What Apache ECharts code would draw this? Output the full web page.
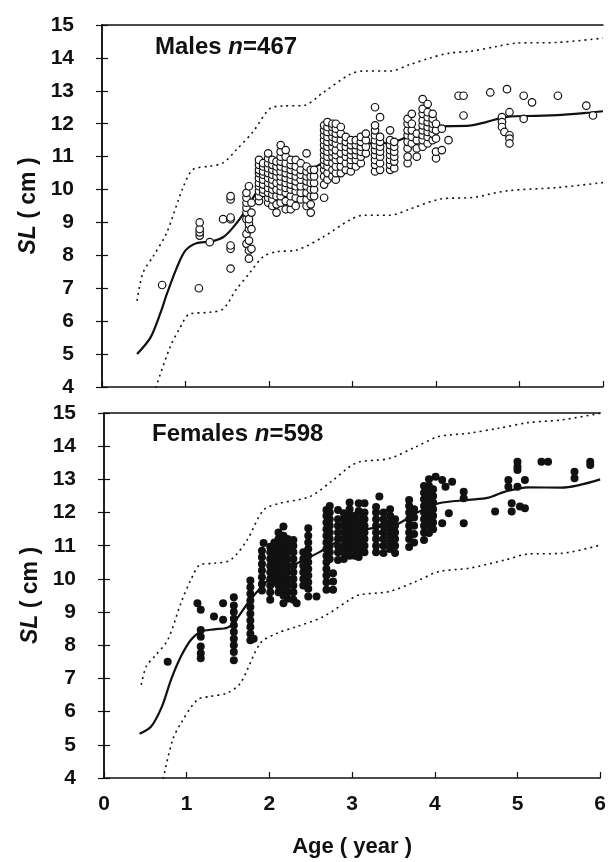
<!DOCTYPE html>
<html>
<head>
<meta charset="utf-8">
<script src="https://cdn.jsdelivr.net/npm/echarts@6/dist/echarts.min.js"></script>
<style>
  html, body { margin: 0; padding: 0; background: #fff; }
  #chart { width: 609px; height: 862px; }
</style>
</head>
<body>
<div id="chart"></div>
<script>
// axis ticks
const ageTicks = [0, 1, 2, 3, 4, 5, 6]
const slTicks = [4, 5, 6, 7, 8, 9, 10, 11, 12, 13, 14, 15]

// males: observed columns [age, [SL ...]]
const maleCols = [
  [0.72, [7.1]],
  [1.16, [7.0]],
  [1.17, [8.6, 8.7, 8.8, 9.0]],
  [1.29, [8.4]],
  [1.45, [9.1]],
  [1.54, [7.6, 8.2, 8.3, 9.1, 9.15, 9.7, 9.8]],
  [1.73, [8.35, 8.65, 9.1, 9.3, 9.45, 9.6, 9.75, 9.9]],
  [1.76, [7.9, 8.15, 8.45, 8.8, 8.95, 9.1, 10.1]],
  [1.79, [8.2, 8.8, 9.3, 9.6]],
  [1.88, [9.65, 9.8, 9.95, 10.1, 10.2, 10.35, 10.5, 10.6, 10.75, 10.9]],
  [1.93, [9.9, 10.0, 10.15, 10.3, 10.45, 10.55, 10.7, 10.8]],
  [1.99, [9.6, 9.75, 9.9, 10.05, 10.2, 10.35, 10.5, 10.65, 10.8, 10.95, 11.1]],
  [2.04, [9.5, 9.7, 9.85, 10.0, 10.15, 10.3, 10.45, 10.6, 10.75, 10.9]],
  [2.09, [9.3, 9.55, 9.8, 10.0, 10.2, 10.4, 10.55, 10.7, 10.85]],
  [2.14, [9.6, 9.8, 9.95, 10.1, 10.25, 10.4, 10.55, 10.7, 10.85, 11.0, 11.15, 11.35]],
  [2.2, [9.4, 9.65, 9.9, 10.05, 10.2, 10.35, 10.5, 10.65, 10.8, 11.0, 11.2]],
  [2.26, [9.4, 9.6, 9.8, 10.0, 10.15, 10.3, 10.45, 10.6, 10.75, 10.9]],
  [2.32, [9.5, 9.75, 9.95, 10.1, 10.25, 10.4, 10.55, 10.7, 10.9]],
  [2.38, [9.7, 9.9, 10.1, 10.3, 10.45, 10.6, 10.8]],
  [2.45, [9.5, 9.7, 9.9, 10.1, 10.25, 10.4, 10.55, 10.7, 11.1]],
  [2.5, [9.3, 9.55, 9.8, 10.0, 10.2, 10.4, 10.6]],
  [2.54, [9.8, 10.0, 10.2, 10.4, 10.6]],
  [2.66, [9.75, 10.15, 10.4, 10.6, 10.75, 10.9, 11.05, 11.2, 11.35, 11.5, 11.65, 11.8, 11.95]],
  [2.7, [10.3, 10.5, 10.7, 10.85, 11.0, 11.15, 11.3, 11.45, 11.6, 11.75, 11.9, 12.05]],
  [2.76, [10.4, 10.6, 10.8, 11.0, 11.15, 11.3, 11.45, 11.6, 11.75, 11.9, 12.0]],
  [2.8, [10.3, 10.5, 10.7, 10.9, 11.05, 11.2, 11.4, 11.55, 11.7, 11.85, 12.0]],
  [2.86, [10.5, 10.7, 10.9, 11.1, 11.3, 11.5, 11.7, 11.9]],
  [2.92, [10.6, 10.8, 11.0, 11.15, 11.3, 11.45, 11.6]],
  [2.98, [10.55, 10.75, 10.9, 11.05, 11.2, 11.35, 11.5]],
  [3.04, [10.7, 10.9, 11.05, 11.2, 11.35, 11.5]],
  [3.1, [10.8, 11.0, 11.15, 11.3, 11.45, 11.6]],
  [3.16, [11.1, 11.3, 11.5, 11.7]],
  [3.27, [10.55, 10.75, 10.9, 11.05, 11.2, 11.35, 11.5, 11.65, 11.8, 11.95, 12.5]],
  [3.33, [10.6, 10.8, 11.0, 11.15, 11.3, 11.45, 11.6, 12.2]],
  [3.45, [10.6, 10.75, 10.9, 11.05, 11.2, 11.35, 11.5, 11.8]],
  [3.5, [10.65, 10.85, 11.0, 11.15, 11.3, 11.45]],
  [3.66, [10.8, 11.0, 11.25, 11.45, 11.65, 11.8, 12.0, 12.15]],
  [3.71, [11.4, 11.6, 11.8, 12.0, 12.3]],
  [3.77, [11.0, 11.25, 11.5, 11.7]],
  [3.84, [11.3, 11.5, 11.65, 11.8, 11.95, 12.1, 12.3, 12.45, 12.75]],
  [3.9, [11.4, 11.6, 11.75, 11.9, 12.05, 12.2, 12.35, 12.6]],
  [3.96, [11.5, 11.7, 11.85, 12.0, 12.15, 12.3]],
  [4.0, [10.95, 11.15, 11.55, 11.8, 12.0]],
  [4.07, [11.2, 11.85]],
  [4.15, [11.5]],
  [4.27, [12.85]],
  [4.33, [12.85, 12.25]],
  [4.65, [12.95]],
  [4.79, [12.2, 12.05, 11.9]],
  [4.82, [11.75]],
  [4.85, [13.05]],
  [4.88, [11.65, 11.55, 11.4, 12.35]],
  [5.05, [12.85, 12.15]],
  [5.15, [12.65]],
  [5.46, [12.85]],
  [5.8, [12.55]],
  [5.88, [12.25]]
]

// males: fitted curve and limits [age, SL]
const maleFit = [[0.42, 5.0], [0.58, 5.5], [0.7, 6.25], [0.78, 6.85], [0.9, 7.65], [1.0, 8.15], [1.13, 8.37], [1.3, 8.42], [1.45, 8.55], [1.57, 8.85], [1.73, 9.4], [1.85, 9.9], [2.0, 10.15], [2.2, 10.3], [2.4, 10.5], [2.6, 10.75], [2.8, 11.05], [3.0, 11.3], [3.2, 11.4], [3.45, 11.42], [3.7, 11.65], [4.0, 11.92], [4.4, 11.94], [4.6, 12.05], [4.85, 12.21], [5.2, 12.24], [5.45, 12.26], [5.8, 12.33], [6.0, 12.38]]
const maleUpper = [[0.42, 6.62], [0.49, 7.47], [0.61, 7.96], [0.77, 8.66], [0.97, 10.06], [1.09, 10.61], [1.29, 10.71], [1.45, 10.81], [1.61, 11.21], [1.81, 11.76], [2.01, 12.46], [2.17, 12.54], [2.41, 12.55], [2.65, 12.95], [2.97, 13.5], [3.13, 13.6], [3.45, 13.6], [3.69, 13.8], [3.93, 14.0], [4.17, 14.15], [4.41, 14.2], [4.73, 14.35], [4.97, 14.45], [5.45, 14.47], [6.0, 14.6]]
const maleLower = [[0.62, 3.8], [0.81, 5.18], [0.93, 5.78], [1.05, 6.22], [1.29, 6.27], [1.45, 6.37], [1.61, 6.97], [1.77, 7.47], [1.93, 7.96], [2.09, 8.11], [2.33, 8.16], [2.65, 8.56], [2.97, 9.08], [3.13, 9.22], [3.45, 9.22], [3.69, 9.41], [4.05, 9.71], [4.44, 9.76], [4.85, 9.96], [5.45, 10.06], [6.0, 10.21]]

// females: observed columns [age, [SL ...]]
const femaleCols = [
  [0.77, [7.5]],
  [1.13, [9.27]],
  [1.17, [9.07, 8.46, 8.26, 7.96, 7.76, 7.61]],
  [1.33, [8.87]],
  [1.44, [9.27, 8.77]],
  [1.57, [7.55, 7.8, 8.0, 8.2, 8.4, 8.6, 8.8, 9.0, 9.2, 9.45]],
  [1.77, [8.15, 8.35, 8.55, 8.75, 8.95, 9.15, 9.35, 9.55, 9.75, 9.95]],
  [1.81, [8.2]],
  [1.91, [9.65, 9.85, 10.05, 10.25, 10.45, 10.65, 10.85]],
  [1.93, [11.08]],
  [2.01, [9.37, 9.6, 9.8, 10.0, 10.2, 10.4, 10.6, 10.8, 10.97]],
  [2.06, [9.9, 10.1, 10.3, 10.5, 10.7, 10.9, 11.1]],
  [2.11, [9.6, 9.8, 10.0, 10.2, 10.4, 10.6, 10.8, 11.0, 11.2, 11.4]],
  [2.17, [9.27, 9.5, 9.7, 9.9, 10.1, 10.3, 10.5, 10.7, 10.9, 11.1, 11.3, 11.58]],
  [2.22, [9.4, 9.6, 9.8, 10.0, 10.2, 10.4, 10.6, 10.8, 11.0, 11.2]],
  [2.29, [9.37, 9.6, 9.8, 10.0, 10.2, 10.4, 10.6, 10.8, 11.0, 11.17]],
  [2.33, [9.27]],
  [2.41, [9.8, 10.0, 10.2, 10.4, 10.6, 10.8]],
  [2.47, [9.47, 9.7, 9.9, 10.1, 10.3, 10.5, 10.7, 10.9, 11.1, 11.3, 11.53]],
  [2.57, [9.47]],
  [2.69, [9.67, 9.9, 10.1, 10.3, 10.5, 10.7, 10.9, 11.1, 11.3, 11.5, 11.7, 11.9, 12.08]],
  [2.73, [10.6, 10.8, 11.0, 11.2, 11.4, 11.6, 11.8, 12.0, 12.2]],
  [2.77, [9.67, 9.92, 10.17]],
  [2.83, [10.57, 10.8, 11.0, 11.2, 11.4, 11.6, 11.8, 12.08]],
  [2.9, [10.6, 10.8, 11.0, 11.2, 11.4, 11.6, 11.8, 11.98]],
  [2.97, [10.7, 10.9, 11.1, 11.3, 11.5, 11.7, 11.9, 12.1, 12.3]],
  [3.03, [10.7, 10.9, 11.1, 11.3, 11.5, 11.7, 11.9]],
  [3.08, [10.66, 10.85, 11.05, 11.25, 11.45, 11.65, 11.85, 12.05, 12.28]],
  [3.15, [10.8, 11.0, 11.2, 11.4, 11.6, 11.8, 12.0, 12.28]],
  [3.29, [10.8, 11.0, 11.2, 11.4, 11.6, 11.8, 12.0, 12.17]],
  [3.33, [12.48]],
  [3.38, [10.78, 11.0, 11.2, 11.4, 11.6, 11.8, 12.0]],
  [3.46, [10.9, 11.1, 11.3, 11.5, 11.7, 11.9, 12.1]],
  [3.52, [10.78, 11.0, 11.2, 11.4, 11.6, 11.8]],
  [3.69, [10.96, 11.2, 11.4, 11.6, 11.8, 12.0, 12.2, 12.38]],
  [3.75, [11.1, 11.35, 11.6, 11.85, 12.1]],
  [3.87, [11.17, 11.4, 11.6, 11.8, 12.0, 12.2, 12.4, 12.6, 12.8]],
  [3.93, [11.38, 11.6, 11.8, 12.0, 12.2, 12.4, 12.6, 12.8, 13.0]],
  [3.98, [11.5, 11.7, 11.9, 12.1, 12.3, 12.5, 12.7]],
  [4.01, [13.08]],
  [4.09, [12.98, 11.68]],
  [4.13, [12.78]],
  [4.17, [11.98]],
  [4.21, [12.93]],
  [4.35, [12.63, 12.43, 11.68]],
  [4.73, [12.03]],
  [4.89, [12.98, 12.78]],
  [4.93, [12.28, 12.03]],
  [5.0, [13.53, 13.38, 13.28, 12.78]],
  [5.03, [12.18]],
  [5.09, [12.98, 12.13]],
  [5.29, [13.53]],
  [5.37, [13.53]],
  [5.69, [13.23, 13.03]],
  [5.88, [13.53, 13.43]]
]

// females: fitted curve and limits [age, SL]
const femaleFit = [[0.43, 5.33], [0.57, 5.55], [0.7, 6.15], [0.81, 6.96], [0.93, 7.66], [1.05, 8.16], [1.17, 8.41], [1.33, 8.48], [1.49, 8.53], [1.57, 8.68], [1.77, 9.37], [2.0, 10.0], [2.2, 10.3], [2.4, 10.55], [2.6, 10.8], [2.8, 11.1], [3.09, 11.45], [3.3, 11.55], [3.53, 11.63], [3.77, 11.98], [4.05, 12.28], [4.41, 12.38], [4.65, 12.45], [4.85, 12.63], [5.13, 12.76], [5.53, 12.75], [6.0, 13.0]]
const femaleUpper = [[0.45, 6.81], [0.51, 7.36], [0.61, 7.66], [0.77, 8.16], [0.93, 9.27], [1.05, 9.97], [1.17, 10.44], [1.33, 10.47], [1.53, 10.57], [1.73, 11.17], [1.93, 12.08], [2.13, 12.28], [2.49, 12.48], [2.77, 12.98], [2.97, 13.38], [3.09, 13.53], [3.45, 13.63], [3.77, 13.98], [4.05, 14.29], [4.41, 14.39], [4.77, 14.54], [5.13, 14.71], [5.53, 14.79], [6.0, 14.99]]
const femaleLower = [[0.7, 3.8], [0.83, 5.15], [0.93, 5.65], [1.13, 6.36], [1.29, 6.46], [1.49, 6.56], [1.65, 6.86], [1.89, 8.06], [2.09, 8.36], [2.33, 8.56], [2.65, 8.86], [2.97, 9.37], [3.09, 9.52], [3.45, 9.62], [3.77, 9.92], [4.05, 10.22], [4.41, 10.32], [4.85, 10.57], [5.13, 10.75], [5.53, 10.77], [6.0, 11.02]]

const flat = cols => cols.flatMap(c => c[1].map(v => [c[0], v]))

const font = 'Liberation Sans'
const ink = '#111'

function frameAxes (gridIndex) {
  const xMain = {
    type: 'value', gridIndex, min: ageTicks[0], max: ageTicks[ageTicks.length - 1], interval: 1,
    axisLine: { lineStyle: { color: ink, width: 1.5 } },
    axisTick: { inside: true, length: 6, lineStyle: { color: ink, width: 1.2 } },
    splitLine: { show: false },
    axisLabel: gridIndex === 1
      ? { show: true, fontFamily: font, fontSize: 21, fontWeight: 'bold', color: ink, margin: 16 }
      : { show: false }
  }
  if (gridIndex === 1) {
    xMain.name = 'Age ( year )'
    xMain.nameLocation = 'middle'
    xMain.nameGap = 58
    xMain.nameTextStyle = { fontFamily: font, fontSize: 22, fontWeight: 'bold', color: ink }
  }
  const xTop = {
    type: 'value', gridIndex, position: 'top', min: 0, max: 6,
    axisLine: { show: true, lineStyle: { color: ink, width: 1.5 } },
    axisTick: { show: false }, axisLabel: { show: false }, splitLine: { show: false }
  }
  const yMain = {
    type: 'value', gridIndex, min: slTicks[0], max: slTicks[slTicks.length - 1], interval: 1,
    axisLine: { show: true, lineStyle: { color: ink, width: 1.5 } },
    axisTick: { show: true, inside: true, length: 6, lineStyle: { color: ink, width: 1.2 } },
    splitLine: { show: false },
    axisLabel: { fontFamily: font, fontSize: 21, fontWeight: 'bold', color: ink, margin: 28 },
    name: '{it|SL} ( cm )',
    nameLocation: 'middle',
    nameRotate: 90,
    nameGap: 62,
    nameTextStyle: {
      fontFamily: font, fontSize: 23, fontWeight: 'bold', color: ink,
      rich: { it: { fontFamily: font, fontSize: 23, fontWeight: 'bold', fontStyle: 'italic', color: ink } }
    }
  }
  const yRight = {
    type: 'value', gridIndex, position: 'right', min: 4, max: 15, interval: 1,
    axisLine: { show: true, lineStyle: { color: ink, width: 1.5 } },
    axisTick: { show: true, inside: true, length: 6, lineStyle: { color: ink, width: 1.2 } },
    axisLabel: { show: false }, splitLine: { show: false }
  }
  return { x: [xMain, xTop], y: [yMain, yRight] }
}

const a0 = frameAxes(0)
const a1 = frameAxes(1)

function curve (data, xi, yi, dotted) {
  return {
    type: 'line', xAxisIndex: xi, yAxisIndex: yi, data,
    smooth: 0.3, symbol: 'none',
    lineStyle: dotted
      ? { color: ink, width: 1.6, type: [2, 4] }
      : { color: ink, width: 2.2 },
    z: 3
  }
}

const titleRich = {
  t: { fontFamily: font, fontSize: 24, fontWeight: 'bold', color: ink },
  n: { fontFamily: font, fontSize: 24, fontWeight: 'bold', fontStyle: 'italic', color: ink }
}

const option = {
  animation: false,
  backgroundColor: '#fff',
  title: [
    { text: '{t|Males }{n|n}{t|=467}', left: 150, top: 30, textStyle: { rich: titleRich } },
    { text: '{t|Females }{n|n}{t|=598}', left: 147, top: 417, textStyle: { rich: titleRich } }
  ],
  grid: [
    { left: 102, top: 25, width: 501, height: 362 },
    { left: 104, top: 413, width: 500, height: 365 }
  ],
  xAxis: [a0.x[0], a0.x[1], a1.x[0], a1.x[1]],
  yAxis: [a0.y[0], a0.y[1], a1.y[0], a1.y[1]],
  series: [
    curve(maleUpper, 0, 0, true),
    curve(maleLower, 0, 0, true),
    curve(maleFit, 0, 0, false),
    {
      type: 'scatter', xAxisIndex: 0, yAxisIndex: 0, data: flat(maleCols),
      symbol: 'circle', symbolSize: 7.5,
      itemStyle: { color: '#fff', borderColor: ink, borderWidth: 1.2, opacity: 1 },
      z: 4
    },
    curve(femaleUpper, 2, 2, true),
    curve(femaleLower, 2, 2, true),
    curve(femaleFit, 2, 2, false),
    {
      type: 'scatter', xAxisIndex: 2, yAxisIndex: 2, data: flat(femaleCols),
      symbol: 'circle', symbolSize: 8,
      itemStyle: { color: ink, opacity: 1 },
      z: 4
    }
  ]
}

const myChart = echarts.init(document.getElementById('chart'))
myChart.setOption(option)
</script>
</body>
</html>
